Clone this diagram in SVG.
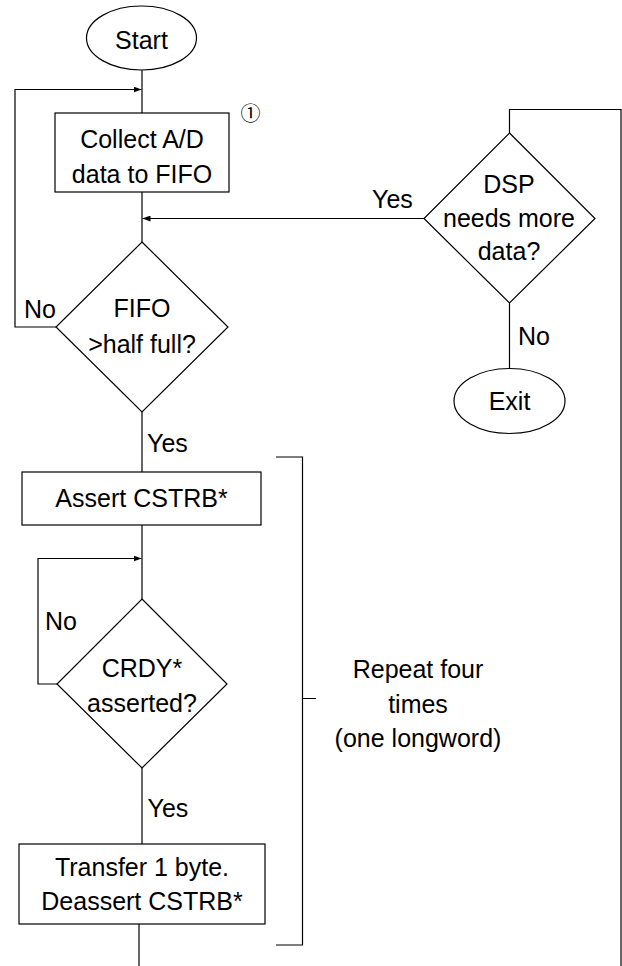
<svg xmlns="http://www.w3.org/2000/svg" width="622" height="966" viewBox="0 0 622 966">
<style>
.s{fill:#fff;stroke:#000;stroke-width:1.2}
.c{fill:none;stroke:#000;stroke-width:1.2}
.t{font-family:"Liberation Sans",Arial,sans-serif;font-size:25px;fill:#000}
.m{text-anchor:middle}
</style>
<defs>
<marker id="ah" viewBox="0 0 8 6" refX="8" refY="3" markerWidth="8" markerHeight="6" markerUnits="userSpaceOnUse" orient="auto">
<path d="M0,0 L8,3 L0,6 Z" fill="#000"/>
</marker>
</defs>
<rect width="622" height="966" fill="#fff"/>
<g id="connectors">
<path class="c" d="M142,70 V113"/>
<path class="c" d="M142,192 V242"/>
<path class="c" d="M142,412 V472"/>
<path class="c" d="M142,525 V599"/>
<path class="c" d="M142,768 V844"/>
<path class="c" d="M139,924 V966"/>
<path class="c" d="M56,327 H15 V89.5 H141.5" marker-end="url(#ah)"/>
<path class="c" d="M424,218.5 H142.5" marker-end="url(#ah)"/>
<path class="c" d="M57,684 H38 V558.5 H141.5" marker-end="url(#ah)"/>
<path class="c" d="M509.5,133 V109.5 H621 V966"/>
<path class="c" d="M509.5,303 V368.5"/>
<path class="c" d="M276,457 H302.5 V945 H276 M302.5,698.5 H316"/>
</g>
<g id="start">
<ellipse class="s" cx="141.5" cy="38" rx="55" ry="32"/>
<text class="t m" x="141.5" y="49">Start</text>
</g>
<g id="collect">
<rect class="s" x="55" y="113" width="174" height="79"/>
<text class="t m" x="142" y="148">Collect A/D</text>
<text class="t m" x="142" y="182.5">data to FIFO</text>
<text x="250.5" y="121" text-anchor="middle" fill="#000" style="font-family:'Noto Sans CJK JP','DejaVu Sans',sans-serif;font-size:20px">①</text>
</g>
<g id="fifo">
<polygon class="s" points="142,242 228,327 142,412 56,327"/>
<text class="t m" x="142" y="317">FIFO</text>
<text class="t m" x="142" y="352.5">&gt;half full?</text>
<text class="t" x="24" y="318">No</text>
<text class="t" x="147" y="452">Yes</text>
</g>
<g id="dsp">
<polygon class="s" points="509.5,133 595,218.5 509.5,303 424,218.5"/>
<text class="t m" x="509" y="193">DSP</text>
<text class="t m" x="509" y="226.5">needs more</text>
<text class="t m" x="509" y="260">data?</text>
<text class="t" x="372" y="208">Yes</text>
<text class="t" x="518" y="345">No</text>
</g>
<g id="exit">
<ellipse class="s" cx="509.5" cy="401" rx="55.5" ry="32.5"/>
<text class="t m" x="509.5" y="410">Exit</text>
</g>
<g id="assert">
<rect class="s" x="22" y="472" width="239" height="53"/>
<text class="t m" x="141.5" y="507">Assert CSTRB*</text>
</g>
<g id="crdy">
<polygon class="s" points="142,599 227,684 142,768 57,684"/>
<text class="t m" x="142" y="677">CRDY*</text>
<text class="t m" x="142" y="712">asserted?</text>
<text class="t" x="45" y="630">No</text>
<text class="t" x="147.5" y="817">Yes</text>
</g>
<g id="transfer">
<rect class="s" x="19" y="844" width="246" height="80"/>
<text class="t m" x="142" y="876">Transfer 1 byte.</text>
<text class="t m" x="142" y="910">Deassert CSTRB*</text>
</g>
<g id="repeat">
<text class="t m" x="418" y="678">Repeat four</text>
<text class="t m" x="418" y="712.5">times</text>
<text class="t m" x="418" y="747">(one longword)</text>
</g>
</svg>
